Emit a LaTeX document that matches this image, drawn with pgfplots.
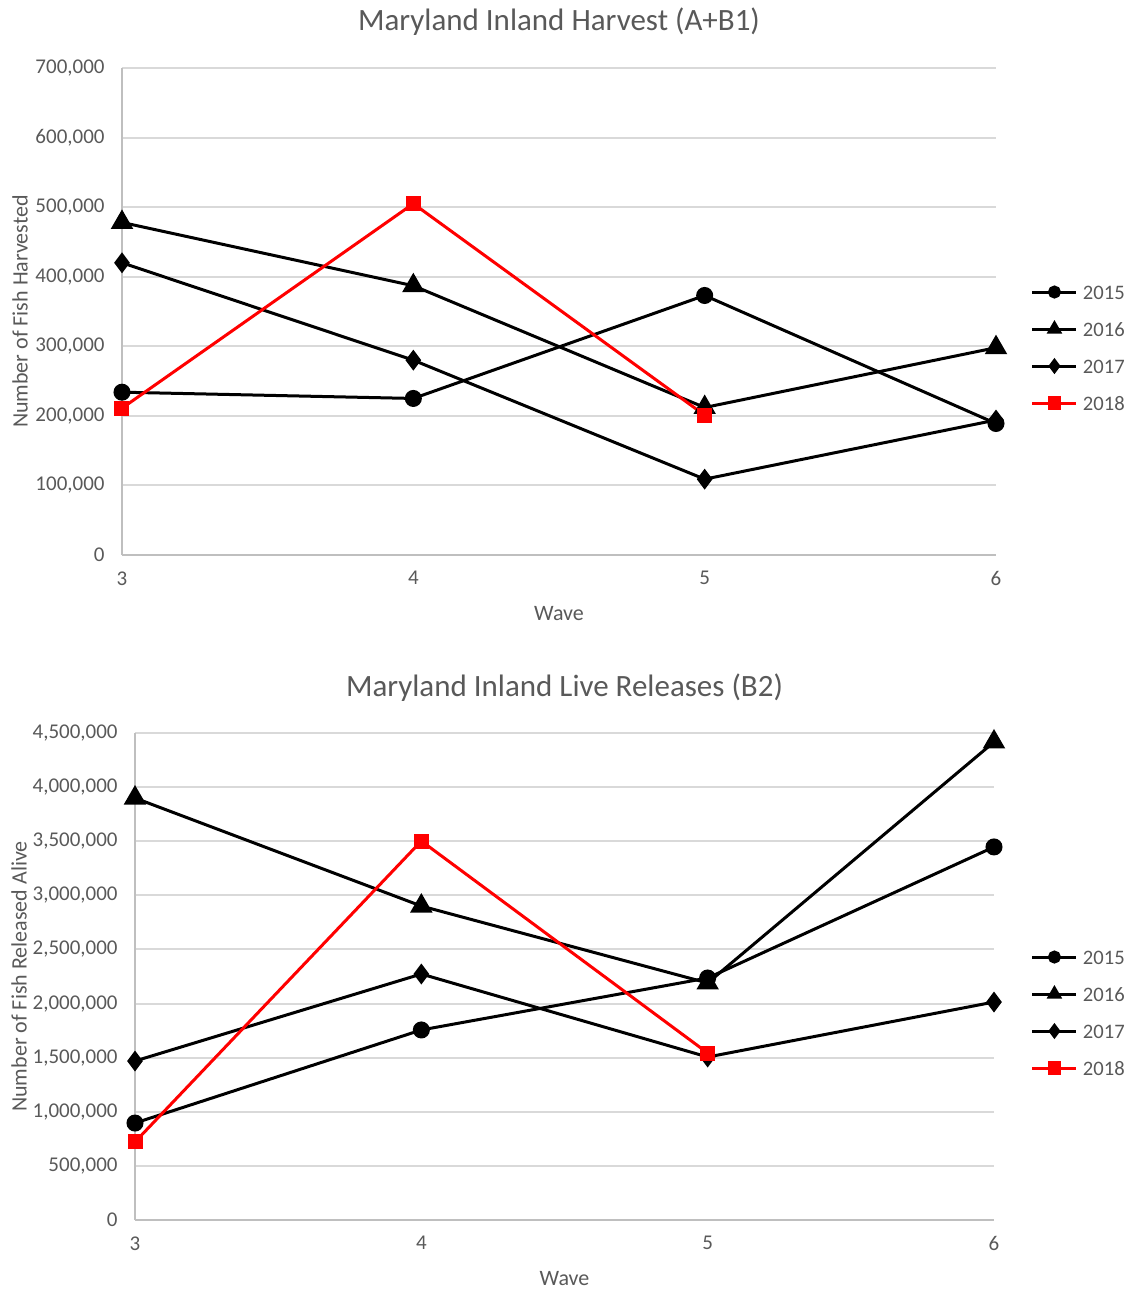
\documentclass[border=0pt]{standalone}
\usepackage{pgfplots}
\pgfplotsset{compat=1.18}
\usepackage{fontspec}
\setmainfont{Carlito}
\definecolor{txt}{HTML}{595959}
\definecolor{gridc}{HTML}{D9D9D9}
\definecolor{axc}{HTML}{BFBFBF}
\definecolor{myred}{HTML}{FF0000}
\pgfplotsset{
  mystyle/.style={
    scale only axis,
    xmin=3, xmax=6, ymin=0,
    xtick={3,4,5,6},
    axis x line*=bottom, axis y line*=left,
    axis line style={draw=axc, line width=1pt, -},
    ymajorgrids, grid style={draw=gridc, line width=1pt},
    major tick length=0pt,
    tick label style={font=\fontsize{10.5}{12}\selectfont, text=txt},
    yticklabel style={inner sep=0pt, anchor=east, xshift=-8.5pt},
    xticklabel style={inner sep=0pt, anchor=north, yshift=-8pt},
    /pgf/number format/assume math mode=true,
    /pgf/number format/.cd, fixed, 1000 sep={,}, /pgfplots/.cd,
    scaled y ticks=false,
    label style={font=\fontsize{11}{13}\selectfont, text=txt},
    title style={font=\fontsize{15.5}{18}\selectfont, text=txt, anchor=center},
    xlabel={Wave},
    legend cell align=left,
    legend style={draw=none, fill=none, inner sep=0pt, outer sep=0pt,
      anchor=west, row sep=11pt, column sep=2.5pt,
      font=\fontsize{10.3}{12}\selectfont, text=txt,
      nodes={inner sep=0pt, text height=7.5pt, text depth=0pt}},
    legend image code/.code={\draw[mark repeat=2,mark phase=2] plot coordinates {(0pt,0pt)(11pt,0pt)(22pt,0pt)};},
  },
  s15/.style={black, line width=1.5pt, mark=*, mark size=3.5pt},
  s16/.style={black, line width=1.5pt, mark=triangle*, mark size=5pt},
  s17/.style={black, line width=1.5pt, mark=diamond*, mark size=4pt},
  s18/.style={myred, line width=1.5pt, mark=square*, mark size=3pt},
}
\begin{document}
\begin{tikzpicture}
\useasboundingbox (0,0) rectangle (565pt,645pt);
\begin{axis}[mystyle,
  at={(61pt,367.5pt)}, anchor=south west,
  width=437pt, height=243.5pt,
  ymax=700000, ytick={0,100000,...,700000},
  title={Maryland Inland Harvest (A+B1)},
  title style={at={(axis description cs:0.5,1.0698)}},
  ylabel={Number of Fish Harvested},
  ylabel style={at={(axis description cs:-0.1167,0.5)}, anchor=center},
  xlabel style={at={(axis description cs:0.5,-0.12)}, anchor=center},
  legend style={at={(axis description cs:1.040,0.426)}},
  legend entries={2015,2016,2017,2018},
]
\addlegendimage{black, line width=1.5pt, mark=*, mark size=2.5pt}
\addlegendimage{black, line width=1.5pt, mark=triangle*, mark size=3pt}
\addlegendimage{black, line width=1.5pt, mark=diamond*, mark size=2.8pt}
\addlegendimage{myred, line width=1.5pt, mark=square*, mark size=2.6pt}
\addplot[s15, forget plot] coordinates {(3,234000)(4,225000)(5,373000)(6,189000)};
\addplot[s16, forget plot] coordinates {(3,478000)(4,387000)(5,212000)(6,298000)};
\addplot[s17, forget plot] coordinates {(3,420000)(4,280000)(5,109000)(6,194000)};
\addplot[s18, forget plot] coordinates {(3,211000)(4,505000)(5,201000)};
\end{axis}
\begin{axis}[mystyle,
  at={(67.5pt,35pt)}, anchor=south west,
  width=429.5pt, height=243.5pt,
  ymax=4500000, ytick={0,500000,...,4500000},
  title={Maryland Inland Live Releases (B2)},
  title style={at={(axis description cs:0.5,1.0678)}},
  ylabel={Number of Fish Released Alive},
  ylabel style={at={(axis description cs:-0.135,0.5)}, anchor=center},
  xlabel style={at={(axis description cs:0.5,-0.121)}, anchor=center},
  legend style={at={(axis description cs:1.043,0.426)}},
  legend entries={2015,2016,2017,2018},
]
\addlegendimage{black, line width=1.5pt, mark=*, mark size=2.5pt}
\addlegendimage{black, line width=1.5pt, mark=triangle*, mark size=3pt}
\addlegendimage{black, line width=1.5pt, mark=diamond*, mark size=2.8pt}
\addlegendimage{myred, line width=1.5pt, mark=square*, mark size=2.6pt}
\addplot[s15, forget plot] coordinates {(3,896000)(4,1756000)(5,2236000)(6,3447000)};
\addplot[s16, forget plot] coordinates {(3,3899000)(4,2901000)(5,2190000)(6,4417000)};
\addplot[s17, forget plot] coordinates {(3,1469000)(4,2273000)(5,1506000)(6,2014000)};
\addplot[s18, forget plot] coordinates {(3,721000)(4,3502000)(5,1543000)};
\end{axis}
\end{tikzpicture}
\end{document}
